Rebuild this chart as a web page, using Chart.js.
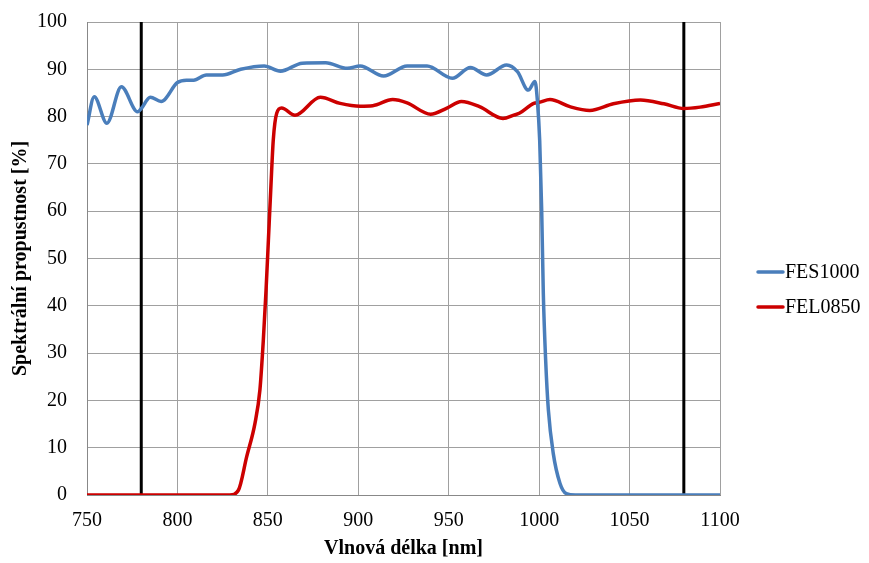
<!DOCTYPE html>
<html lang="cs">
<head>
<meta charset="utf-8">
<title>Spektrální propustnost filtrů</title>
<script src="https://cdn.jsdelivr.net/npm/chart.js@4/dist/chart.umd.min.js"></script>
<style>
  html, body { margin: 0; padding: 0; background: #fff; }
  #wrap { width: 869px; height: 563px; position: relative; }
</style>
</head>
<body>
<div id="wrap"><canvas id="chart"></canvas></div>
<script>
// Propustnost filtrů
const fes1000Nm = [750, 754, 761, 769, 778, 780, 785, 791, 800, 805, 809, 816, 825, 835, 848, 857, 869, 882, 894, 901, 914, 927, 938, 952, 962, 971, 982, 988, 994, 997.7, 999, 1000.3, 1001.4, 1002.3, 1003.6, 1005.1, 1007.8, 1011.5, 1015, 1020, 1100];
const fes1000T  = [78.2, 84.2, 78.6, 86.3, 81.0, 81.7, 84.1, 83.2, 87.2, 87.7, 87.7, 88.8, 88.8, 90.0, 90.7, 89.6, 91.3, 91.4, 90.2, 90.7, 88.6, 90.7, 90.7, 88.1, 90.4, 88.8, 90.9, 89.5, 85.6, 87.4, 83.5, 75.0, 60.3, 42.7, 28.5, 18.0, 8.8, 2.5, 0.3, 0, 0];

const fel0850Nm = [750, 829, 833.7, 838.3, 842.9, 845.6, 847.5, 849, 850.3, 851.6, 853, 854.9, 857.6, 865, 879, 890, 901, 908, 919, 927, 940, 949, 957, 967, 980, 986, 989, 997, 1000, 1006, 1017, 1028, 1041, 1056, 1069, 1080, 1089, 1100];
const fel0850T  = [0, 0, 1.0, 8.1, 15.2, 22.2, 32.8, 43.3, 53.9, 64.5, 75.1, 80.7, 81.8, 80.3, 84.1, 82.8, 82.2, 82.3, 83.6, 82.9, 80.5, 81.8, 83.2, 82.1, 79.6, 80.3, 80.7, 82.8, 83.0, 83.6, 82.1, 81.3, 82.7, 83.5, 82.7, 81.7, 82.0, 82.8];

// svislé značky
const markerNm = [780, 1080];

const xTicks = [750, 800, 850, 900, 950, 1000, 1050, 1100];

const FONT = 'Liberation Serif, "Times New Roman", serif';

const toPoints = (xs, ys) => xs.map((x, i) => ({ x, y: ys[i] }));

const curveDatasets = [
  { label: 'FES1000', data: toPoints(fes1000Nm, fes1000T), borderColor: '#4a7ebb' },
  { label: 'FEL0850', data: toPoints(fel0850Nm, fel0850T), borderColor: '#cc0000' }
].map(ds => ({
  ...ds,
  borderWidth: 3.5,
  pointRadius: 0,
  cubicInterpolationMode: 'monotone',
  fill: false,
  inLegend: true
}));

const markerDatasets = markerNm.map(nm => ({
  label: 'marker ' + nm,
  data: [{ x: nm, y: 0 }, { x: nm, y: 100 }],
  borderColor: '#000',
  borderWidth: 3,
  pointRadius: 0,
  inLegend: false
}));

// legenda vpravo, jen pro křivky
const sideLegend = {
  id: 'sideLegend',
  afterDraw(chart) {
    const { ctx, chartArea } = chart;
    const items = chart.data.datasets.filter(ds => ds.inLegend);
    ctx.save();
    ctx.font = '20px ' + FONT;
    ctx.textBaseline = 'middle';
    ctx.fillStyle = '#000';
    items.forEach((ds, i) => {
      const y = 272 + i * 35;
      const x = chartArea.right + 38;
      ctx.strokeStyle = ds.borderColor;
      ctx.lineWidth = 3.5;
      ctx.lineCap = 'round';
      ctx.beginPath();
      ctx.moveTo(x, y);
      ctx.lineTo(x + 25, y);
      ctx.stroke();
      ctx.fillText(ds.label, x + 27, y + 1);
    });
    ctx.restore();
  }
};

new Chart(document.getElementById('chart'), {
  type: 'line',
  data: { datasets: [...curveDatasets, ...markerDatasets] },
  options: {
    responsive: true,
    maintainAspectRatio: false,
    animation: false,
    layout: { padding: { top: 22, right: 149, bottom: 0, left: 0 } },
    plugins: {
      legend: { display: false },
      tooltip: { enabled: false }
    },
    scales: {
      x: {
        type: 'linear',
        min: 750,
        max: 1100,
        afterBuildTicks: axis => { axis.ticks = xTicks.map(value => ({ value })); },
        afterFit: axis => { axis.height = 68; },
        grid: { color: '#a0a0a0', drawTicks: false },
        border: { color: '#888' },
        ticks: {
          color: '#000',
          padding: 14,
          font: { family: FONT, size: 20 },
          callback: value => String(value)
        },
        title: {
          display: true,
          text: 'Vlnová délka [nm]',
          color: '#000',
          padding: { top: 0, bottom: 2 },
          font: { family: FONT, size: 20, weight: 'bold' }
        }
      },
      y: {
        min: 0,
        max: 100,
        afterFit: axis => {
          axis.width = 87;
          axis.paddingTop = 0;
          axis.paddingBottom = 0;
        },
        grid: { color: '#a0a0a0', drawTicks: false },
        border: { color: '#888' },
        ticks: { stepSize: 10, color: '#000', padding: 20, font: { family: FONT, size: 20 } },
        title: {
          display: true,
          text: 'Spektrální propustnost [%]',
          color: '#000',
          padding: { top: 9, bottom: 0 },
          font: { family: FONT, size: 20, weight: 'bold' }
        }
      }
    }
  },
  plugins: [sideLegend]
});
</script>
</body>
</html>
